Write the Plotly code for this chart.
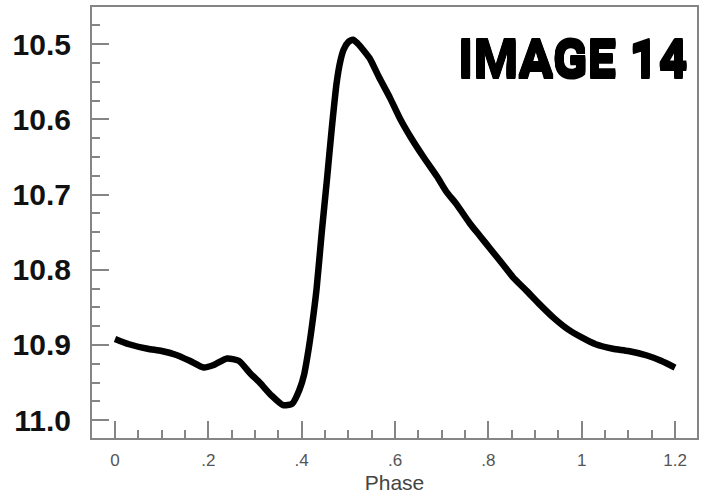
import plotly.graph_objects as go

phase = [0.00, 0.03, 0.07, 0.10, 0.13, 0.16, 0.19, 0.21, 0.24, 0.265, 0.29, 0.31,
         0.335, 0.36, 0.38, 0.395, 0.405, 0.415, 0.422, 0.432, 0.443, 0.454, 0.464,
         0.475, 0.483, 0.49, 0.50, 0.51, 0.52, 0.535, 0.546, 0.565, 0.589, 0.61,
         0.635, 0.661, 0.69, 0.71, 0.732, 0.76, 0.782, 0.804, 0.83, 0.853, 0.882,
         0.91, 0.94, 0.97, 1.00, 1.03, 1.067, 1.10, 1.14, 1.17, 1.20]
magnitude = [10.892, 10.899, 10.905, 10.908, 10.913, 10.921, 10.930, 10.927, 10.918,
             10.921, 10.938, 10.950, 10.967, 10.980, 10.978, 10.960, 10.940, 10.905,
             10.875, 10.825, 10.750, 10.681, 10.615, 10.551, 10.522, 10.507, 10.497,
             10.494, 10.499, 10.510, 10.519, 10.543, 10.571, 10.598, 10.625, 10.650,
             10.676, 10.696, 10.713, 10.738, 10.755, 10.772, 10.792, 10.810, 10.828,
             10.846, 10.864, 10.879, 10.890, 10.899, 10.905, 10.908, 10.914, 10.921,
             10.930]

x_tickvals = [0, 0.2, 0.4, 0.6, 0.8, 1.0, 1.2]
x_ticktext = ["0", ".2", ".4", ".6", ".8", "1", "1.2"]
y_tickvals = [10.5, 10.6, 10.7, 10.8, 10.9, 11.0]
y_ticktext = ["10.5", "10.6", "10.7", "10.8", "10.9", "11.0"]

axis_gray = "#858585"

heavy_shadow = "0 1px 0 #000, 0 2px 0 #000, 0 3px 0 #000, 0 4px 0 #000"

fig = go.Figure()
fig.add_trace(go.Scatter(
    x=phase, y=magnitude, mode="lines",
    line=dict(color="black", width=6.5, shape="spline", smoothing=0.6),
    showlegend=False, hoverinfo="skip",
))

fig.update_layout(
    width=706, height=496,
    margin=dict(l=92, r=9, t=5, b=56),
    paper_bgcolor="white", plot_bgcolor="white",
    font=dict(family="Liberation Sans, Arial, sans-serif"),
    xaxis=dict(
        range=[-0.0493, 1.2471],
        tickvals=x_tickvals, ticktext=x_ticktext,
        ticks="inside", ticklen=17, tickwidth=2, tickcolor=axis_gray,
        minor=dict(dtick=0.05, tick0=0, ticks="inside", ticklen=8, tickwidth=2,
                   tickcolor=axis_gray, showgrid=False),
        showline=True, linecolor=axis_gray, linewidth=2, mirror=True,
        showgrid=False, zeroline=False,
        tickfont=dict(size=17, color="#555555"),
        ticklabelstandoff=6,
        title=dict(text="Phase", font=dict(size=21, color="#444444"), standoff=6),
    ),
    yaxis=dict(
        range=[11.0237, 10.4505],
        tickvals=y_tickvals, ticktext=y_ticktext,
        ticks="inside", ticklen=17, tickwidth=2, tickcolor=axis_gray,
        minor=dict(dtick=0.025, tick0=10.5, ticks="inside", ticklen=8, tickwidth=2,
                   tickcolor=axis_gray, showgrid=False),
        showline=True, linecolor=axis_gray, linewidth=2, mirror=True,
        showgrid=False, zeroline=False,
        tickfont=dict(size=30, color="#111111", weight="bold"),
        ticklabelstandoff=13,
    ),
    annotations=[dict(
        text="IMAGE 14", xref="paper", yref="paper",
        x=0.988, y=0.883, xanchor="right", yanchor="middle",
        showarrow=False,
        font=dict(family="Roboto, Liberation Sans, Arial, sans-serif",
                  size=51, color="black", weight=900,
                  shadow=heavy_shadow),
    )],
)

fig.write_html("out.html")
